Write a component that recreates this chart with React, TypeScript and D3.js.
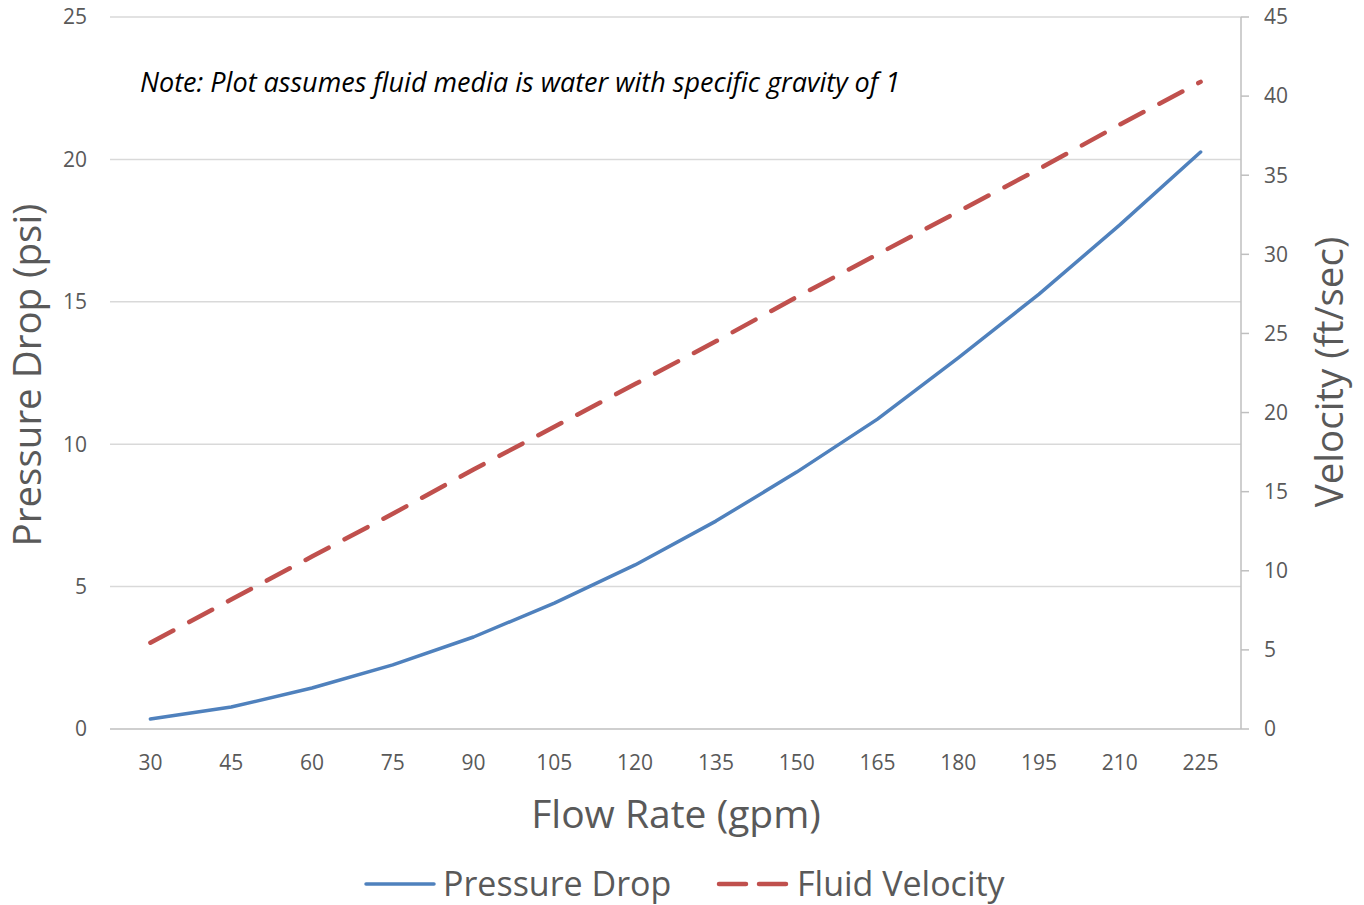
import React, { useRef, useEffect } from "react"
import * as d3 from "d3"

const flowRates = [30, 45, 60, 75, 90, 105, 120, 135, 150, 165, 180, 195, 210, 225]
const pressureDrop = [0.35, 0.77, 1.44, 2.25, 3.23, 4.42, 5.76, 7.3, 9.02, 10.88, 13.03, 15.27, 17.7, 20.26]
const fluidVelocity = [5.45, 8.18, 10.9, 13.6, 16.4, 19.1, 21.8, 24.5, 27.3, 30.0, 32.7, 35.4, 38.2, 40.9]
const leftTicks = [0, 5, 10, 15, 20, 25]
const rightTicks = [0, 5, 10, 15, 20, 25, 30, 35, 40, 45]

const W = 1364
const H = 905
const FONT = "'Open Sans', 'Noto Sans', sans-serif"
const TEXT = "#595959"

const App: React.FC = () => {
  const svgRef = useRef<SVGSVGElement | null>(null)

  useEffect(() => {
    document.body.style.margin = "0"
    if (!svgRef.current) return
    const svg = d3.select(svgRef.current)
    svg.selectAll("*").remove()

    const margin = { top: 17, right: 123, bottom: 176, left: 110 }
    const x0 = margin.left
    const x1 = W - margin.right
    const y0 = H - margin.bottom
    const y1 = margin.top

    const x = d3.scaleBand<number>().domain(flowRates).range([x0, x1]).padding(0)
    const cx = (d: number) => (x(d) || 0) + x.bandwidth() / 2
    const yL = d3.scaleLinear().domain([0, 25]).range([y0, y1])
    const yR = d3.scaleLinear().domain([0, 45]).range([y0, y1])

    // gridlines
    svg.append("g")
      .selectAll("line")
      .data(leftTicks)
      .join("line")
      .attr("x1", x0)
      .attr("x2", x1)
      .attr("y1", (d) => yL(d))
      .attr("y2", (d) => yL(d))
      .attr("stroke", (d) => (d === 0 ? "#bfbfbf" : "#d9d9d9"))
      .attr("stroke-width", 1.5)

    // left tick labels
    svg.append("g")
      .selectAll("text")
      .data(leftTicks)
      .join("text")
      .attr("x", 87)
      .attr("y", (d) => yL(d))
      .attr("dy", "0.35em")
      .attr("text-anchor", "end")
      .attr("font-family", FONT)
      .attr("font-size", 21)
      .attr("fill", TEXT)
      .text((d) => d)

    // right axis
    const right = svg.append("g").attr("transform", `translate(${x1},0)`)
    right.append("line")
      .attr("x1", 0).attr("x2", 0)
      .attr("y1", yR(0)).attr("y2", yR(45))
      .attr("stroke", "#bfbfbf").attr("stroke-width", 1.5)
    right.selectAll("line.tick")
      .data(rightTicks)
      .join("line")
      .attr("class", "tick")
      .attr("x1", 0).attr("x2", 8)
      .attr("y1", (d) => yR(d)).attr("y2", (d) => yR(d))
      .attr("stroke", "#bfbfbf").attr("stroke-width", 1.5)
    right.selectAll("text")
      .data(rightTicks)
      .join("text")
      .attr("x", 23)
      .attr("y", (d) => yR(d))
      .attr("dy", "0.35em")
      .attr("font-family", FONT)
      .attr("font-size", 21)
      .attr("fill", TEXT)
      .text((d) => d)

    // x labels
    svg.append("g")
      .selectAll("text")
      .data(flowRates)
      .join("text")
      .attr("x", (d) => cx(d))
      .attr("y", 763)
      .attr("dy", "0.35em")
      .attr("text-anchor", "middle")
      .attr("font-family", FONT)
      .attr("font-size", 21)
      .attr("fill", TEXT)
      .text((d) => d)

    // axis titles
    svg.append("text")
      .attr("x", 676)
      .attr("y", 814)
      .attr("dy", "0.35em")
      .attr("text-anchor", "middle")
      .attr("font-family", FONT)
      .attr("font-size", 39)
      .attr("fill", TEXT)
      .text("Flow Rate (gpm)")
    svg.append("text")
      .attr("transform", `translate(28,375) rotate(-90)`)
      .attr("dy", "0.35em")
      .attr("text-anchor", "middle")
      .attr("font-family", FONT)
      .attr("font-size", 38.5)
      .attr("fill", TEXT)
      .text("Pressure Drop (psi)")
    svg.append("text")
      .attr("transform", `translate(1330,372) rotate(-90)`)
      .attr("dy", "0.35em")
      .attr("text-anchor", "middle")
      .attr("font-family", FONT)
      .attr("font-size", 38.5)
      .attr("fill", TEXT)
      .text("Velocity (ft/sec)")

    // note
    svg.append("text")
      .attr("x", 140)
      .attr("y", 83)
      .attr("dy", "0.35em")
      .attr("font-family", FONT)
      .attr("font-size", 27)
      .attr("font-style", "italic")
      .attr("fill", "#000")
      .text("Note: Plot assumes fluid media is water with specific gravity of 1")

    // lines
    const idx = d3.range(flowRates.length)
    const pLine = d3.line<number>().x((i) => cx(flowRates[i])).y((i) => yL(pressureDrop[i]))
    const vLine = d3.line<number>().x((i) => cx(flowRates[i])).y((i) => yR(fluidVelocity[i]))

    svg.append("path")
      .attr("d", vLine(idx))
      .attr("fill", "none")
      .attr("stroke", "#c0504d")
      .attr("stroke-width", 4.5)
      .attr("stroke-linecap", "round")
      .attr("stroke-dasharray", "26 18")

    svg.append("path")
      .attr("d", pLine(idx))
      .attr("fill", "none")
      .attr("stroke", "#4f81bd")
      .attr("stroke-width", 3.5)
      .attr("stroke-linecap", "round")
      .attr("stroke-linejoin", "round")

    // legend
    const lg = svg.append("g").attr("transform", "translate(0,884)")
    lg.append("line")
      .attr("x1", 366).attr("x2", 434).attr("y1", 0).attr("y2", 0)
      .attr("stroke", "#4f81bd").attr("stroke-width", 3.5).attr("stroke-linecap", "round")
    lg.append("text")
      .attr("x", 443).attr("dy", "0.35em")
      .attr("font-family", FONT).attr("font-size", 34).attr("fill", TEXT)
      .text("Pressure Drop")
    lg.append("line")
      .attr("x1", 719).attr("x2", 788).attr("y1", 0).attr("y2", 0)
      .attr("stroke", "#c0504d").attr("stroke-width", 4.5).attr("stroke-linecap", "round")
      .attr("stroke-dasharray", "27 13")
    lg.append("text")
      .attr("x", 797).attr("dy", "0.35em")
      .attr("font-family", FONT).attr("font-size", 34).attr("fill", TEXT)
      .text("Fluid Velocity")
  }, [])

  return <svg ref={svgRef} width={W} height={H} style={{ display: "block" }}></svg>
}

export default App
